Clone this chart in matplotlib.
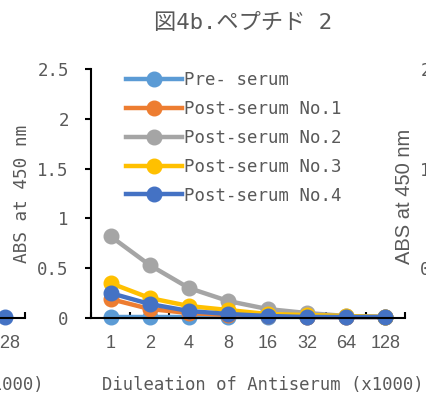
import numpy as np
import matplotlib
matplotlib.use('Agg')
import matplotlib.pyplot as plt

# data
dilutions = ['1', '2', '4', '8', '16', '32', '64', '128']
seriesNames = ['Pre- serum', 'Post-serum No.1', 'Post-serum No.2', 'Post-serum No.3', 'Post-serum No.4']
preSerum = [0.01, 0.01, 0.01, 0.01, 0.01, 0.01, 0.01, 0.01]
post1 = [0.19, 0.09, 0.05, 0.03, 0.02, 0.01, 0.01, 0.01]
post2 = [0.82, 0.53, 0.30, 0.17, 0.09, 0.05, 0.02, 0.01]
post3 = [0.35, 0.20, 0.12, 0.08, 0.04, 0.03, 0.02, 0.01]
post4 = [0.25, 0.14, 0.07, 0.04, 0.02, 0.01, 0.01, 0.01]
yTicks = [0, 0.5, 1, 1.5, 2, 2.5]
yTickLabels = ['0', '0.5', '1', '1.5', '2', '2.5']
# neighbouring chart on the left: only its last point shows
leftLastCat = [7]
leftLastVal = [0.01]

colors = ['#5B9BD5', '#ED7D31', '#A5A5A5', '#FFC000', '#4472C4']
txtColor = '#595959'
mono = 'DejaVu Sans Mono'
W, H = 427, 397

fig = plt.figure(figsize=(W / 100, H / 100), dpi=100)

def setupAxes(ax, ylabelFont=mono, ylabelSize=12.8, ylabelX=-0.22, ylabelY=0.5):
    ax.set_facecolor('none')
    ax.set_xlim(-0.5, 7.5)
    ax.set_ylim(0, 2.5)
    for s in ['top', 'right']:
        ax.spines[s].set_visible(False)
    for s in ['left', 'bottom']:
        ax.spines[s].set_linewidth(1.5)
    ax.set_xticks(range(len(dilutions)))
    ax.set_xticklabels(dilutions, fontsize=13, family='Liberation Sans', color=txtColor)
    ax.set_xticks(np.arange(-0.5, 8, 1), minor=True)
    ax.tick_params(axis='x', which='major', length=0, pad=12)
    ax.tick_params(axis='x', which='minor', direction='in', length=4, width=1.5)
    ax.set_yticks(yTicks)
    ax.set_yticklabels(yTickLabels, fontsize=12.5, family=mono, color=txtColor)
    ax.tick_params(axis='y', direction='out', length=4, width=1.5, pad=12)
    ax.set_xlabel('Diuleation of Antiserum (x1000)', fontsize=12.4, family=mono, color=txtColor)
    ax.xaxis.set_label_coords(0.548, -0.268)
    ax.xaxis.label.set_va('center')
    ax.set_ylabel('ABS at 450 nm', fontsize=ylabelSize, family=ylabelFont, color=txtColor)
    ax.yaxis.set_label_coords(ylabelX, ylabelY)
    ax.yaxis.label.set_va('center')

axW, axH = 314 / W, 249 / H
axB = 1 - 318 / H

# left neighbour (mostly off the figure)
axL = fig.add_axes([25 / W - axW, axB, axW, axH])
setupAxes(axL)
axL.plot(leftLastCat, leftLastVal, 'o', color=colors[4], markersize=10.5, clip_on=False)

# right neighbour (mostly off the figure)
axR = fig.add_axes([474 / W, axB, axW, axH])
setupAxes(axR, ylabelFont='Liberation Sans', ylabelSize=14.5, ylabelX=-0.22, ylabelY=0.49)

# main chart
ax = fig.add_axes([91 / W, axB, axW, axH])
setupAxes(ax)
x = np.arange(len(dilutions))
for name, vals, c in zip(seriesNames, [preSerum, post1, post2, post3, post4], colors):
    ax.plot(x, vals, '-o', color=c, lw=3.2, markersize=10.5, label=name, clip_on=False)

leg = ax.legend(loc='upper left', bbox_to_anchor=(0.112, 0.99), frameon=False,
                borderpad=0, borderaxespad=0, handlelength=3.2, handletextpad=0.15,
                labelspacing=0.62, prop={'family': mono, 'size': 12.5})
for t in leg.get_texts():
    t.set_color(txtColor)

fig.text(243 / W, 1 - 23 / H, '図4b.ペプチド 2', ha='center', va='center', fontsize=16,
         family=[mono, 'Noto Sans CJK JP'], color=txtColor)

fig.savefig('out.png', dpi=100)
